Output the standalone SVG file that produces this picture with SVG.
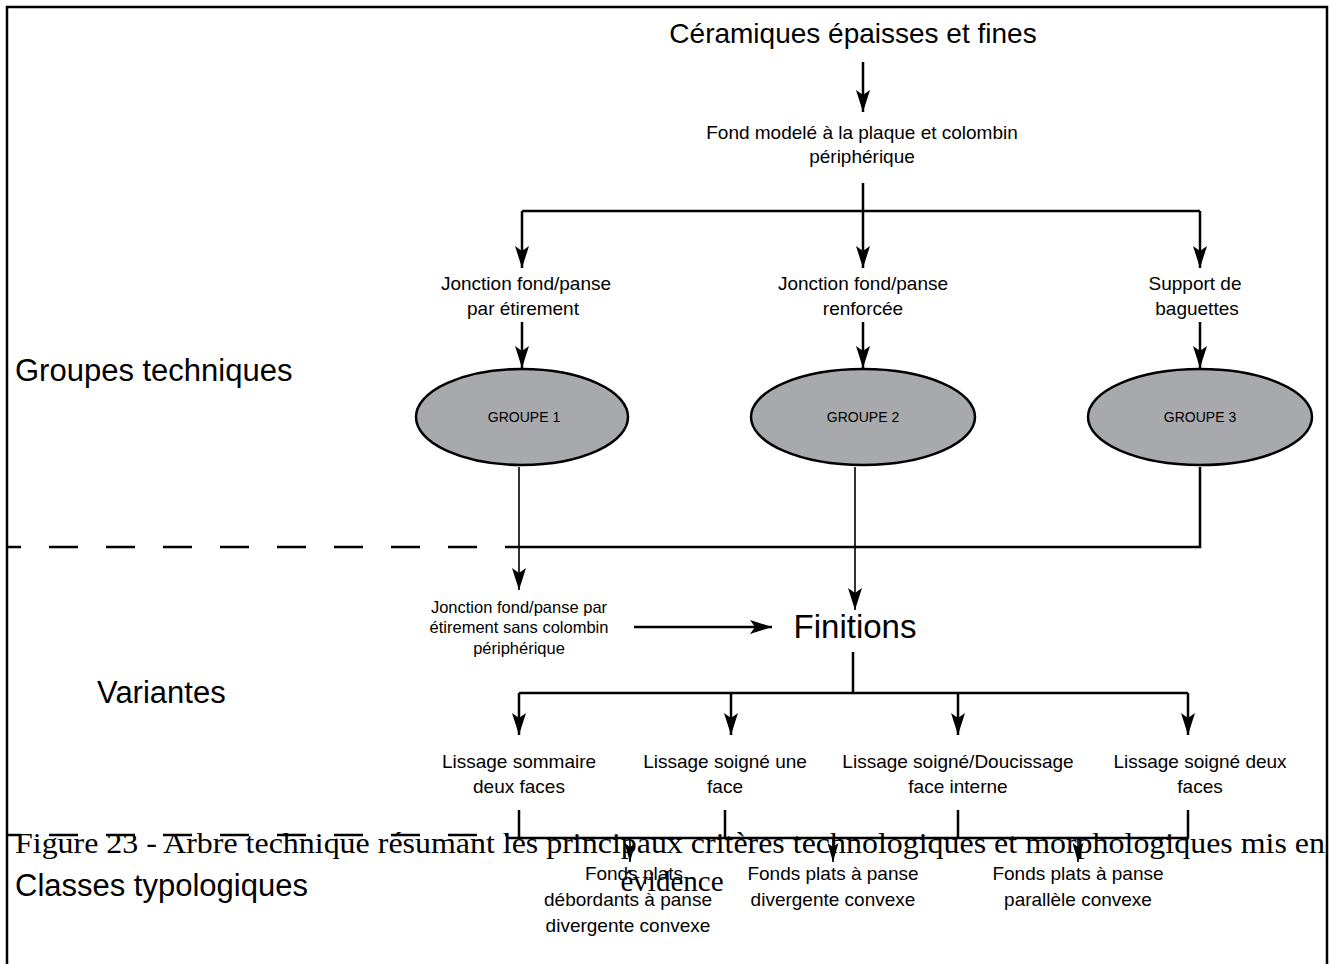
<svg xmlns="http://www.w3.org/2000/svg" width="1333" height="964" viewBox="0 0 1333 964">
<style>
.t{font-family:"Liberation Sans",Arial,sans-serif;fill:#000;text-anchor:middle}
.big{font-family:"Liberation Sans",Arial,sans-serif;fill:#000;font-size:31px}
.m{font-size:19px}
.s{font-size:16.5px}
.c{stroke:#000;stroke-width:2.5;fill:none}
.thin{stroke:#000;stroke-width:1.6;fill:none}
.dash{stroke:#000;stroke-width:2.5;fill:none;stroke-dasharray:29 28;stroke-dashoffset:15}
.ell{fill:#a7a9ac;stroke:#000;stroke-width:2.5}
</style>
<defs>
<marker id="ah" markerUnits="userSpaceOnUse" markerWidth="22" markerHeight="14" refX="22" refY="7" orient="auto" viewBox="0 0 22 14">
<path d="M0,0 L22,7 L0,14 L5,7 Z" fill="#000"/>
</marker>
<marker id="as" markerUnits="userSpaceOnUse" markerWidth="19" markerHeight="11" refX="19" refY="5.5" orient="auto" viewBox="0 0 19 11">
<path d="M0,0 L19,5.5 L0,11 L4,5.5 Z" fill="#000"/>
</marker>
</defs>
<rect x="0" y="0" width="1333" height="964" fill="#fff"/>
<rect x="7" y="7" width="1320" height="970" fill="none" stroke="#000" stroke-width="2.5"/>

<g id="labels-rows">
<text class="big" x="15" y="381">Groupes techniques</text>
<text class="big" x="97" y="703">Variantes</text>
<text class="big" x="15" y="896">Classes typologiques</text>
</g>

<g id="connectors">
<path class="c" d="M863,62 V112" marker-end="url(#ah)"/>
<path class="c" d="M863,183 V268" marker-end="url(#ah)"/>
<path class="c" d="M522,211 H1200"/>
<path class="c" d="M522,211 V268" marker-end="url(#ah)"/>
<path class="c" d="M1200,211 V268" marker-end="url(#ah)"/>
<path class="c" d="M522,322 V368" marker-end="url(#ah)"/>
<path class="c" d="M863,322 V368" marker-end="url(#ah)"/>
<path class="c" d="M1200,322 V368" marker-end="url(#ah)"/>
<path class="thin" d="M519,467 V590" marker-end="url(#ah)"/>
<path class="thin" d="M855,467 V610" marker-end="url(#ah)"/>
<path class="c" d="M1200,467 V547 H519"/>
<path class="dash" d="M7,547 H519"/>
<path class="c" d="M634,627 H772" marker-end="url(#ah)"/>
<path class="c" d="M853,652 V693"/>
<path class="c" d="M519,693 H1188"/>
<path class="c" d="M519,693 V735" marker-end="url(#ah)"/>
<path class="c" d="M731,693 V735" marker-end="url(#ah)"/>
<path class="c" d="M958,693 V735" marker-end="url(#ah)"/>
<path class="c" d="M1188,693 V735" marker-end="url(#ah)"/>
<path class="c" d="M519,810 V838"/>
<path class="c" d="M725,810 V838"/>
<path class="c" d="M958,810 V838"/>
<path class="c" d="M1188,810 V838"/>
<path class="c" d="M507,838 H1189"/>
<path class="dash" d="M7,835 H507"/>
<path class="thin" d="M630,838 V862" marker-end="url(#as)"/>
<path class="thin" d="M833,838 V862" marker-end="url(#as)"/>
<path class="thin" d="M1078,838 V862" marker-end="url(#as)"/>
</g>

<g id="n-top"><text class="t" x="853" y="43" font-size="28">Céramiques épaisses et fines</text></g>
<g id="n-fond"><text class="t m" x="862" y="139">Fond modelé à la plaque et colombin</text><text class="t m" x="862" y="163">périphérique</text></g>
<g id="n-j1"><text class="t m" x="526" y="290">Jonction fond/panse</text><text class="t m" x="523" y="315">par étirement</text></g>
<g id="n-j2"><text class="t m" x="863" y="290">Jonction fond/panse</text><text class="t m" x="863" y="315">renforcée</text></g>
<g id="n-j3"><text class="t m" x="1195" y="290">Support de</text><text class="t m" x="1197" y="315">baguettes</text></g>
<g id="g1"><ellipse class="ell" cx="522" cy="417" rx="106" ry="48"/><text class="t" x="524" y="422" font-size="14">GROUPE 1</text></g>
<g id="g2"><ellipse class="ell" cx="863" cy="417" rx="112" ry="48"/><text class="t" x="863" y="422" font-size="14">GROUPE 2</text></g>
<g id="g3"><ellipse class="ell" cx="1200" cy="417" rx="112" ry="48"/><text class="t" x="1200" y="422" font-size="14">GROUPE 3</text></g>
<g id="n-var"><text class="t s" x="519" y="613">Jonction fond/panse par</text><text class="t s" x="519" y="633">étirement sans colombin</text><text class="t s" x="519" y="654">périphérique</text></g>
<g id="n-fin"><text class="t" x="855" y="638" font-size="33">Finitions</text></g>
<g id="n-l1"><text class="t m" x="519" y="768">Lissage sommaire</text><text class="t m" x="519" y="793">deux faces</text></g>
<g id="n-l2"><text class="t m" x="725" y="768">Lissage soigné une</text><text class="t m" x="725" y="793">face</text></g>
<g id="n-l3"><text class="t m" x="958" y="768">Lissage soigné/Doucissage</text><text class="t m" x="958" y="793">face interne</text></g>
<g id="n-l4"><text class="t m" x="1200" y="768">Lissage soigné deux</text><text class="t m" x="1200" y="793">faces</text></g>
<g id="n-c1"><text class="t m" x="634" y="880">Fonds plats</text><text class="t m" x="628" y="906">débordants à panse</text><text class="t m" x="628" y="932">divergente convexe</text></g>
<g id="n-c2"><text class="t m" x="833" y="880">Fonds plats à panse</text><text class="t m" x="833" y="906">divergente convexe</text></g>
<g id="n-c3"><text class="t m" x="1078" y="880">Fonds plats à panse</text><text class="t m" x="1078" y="906">parallèle convexe</text></g>
<g id="caption">
<text x="15" y="853" font-family="'Liberation Serif','Times New Roman',serif" font-size="29" textLength="1310" lengthAdjust="spacingAndGlyphs">Figure 23 - Arbre technique résumant les principaux critères technologiques et morphologiques mis en</text>
<text x="672" y="891" font-family="'Liberation Serif','Times New Roman',serif" font-size="29" text-anchor="middle">évidence</text>
</g>
</svg>
